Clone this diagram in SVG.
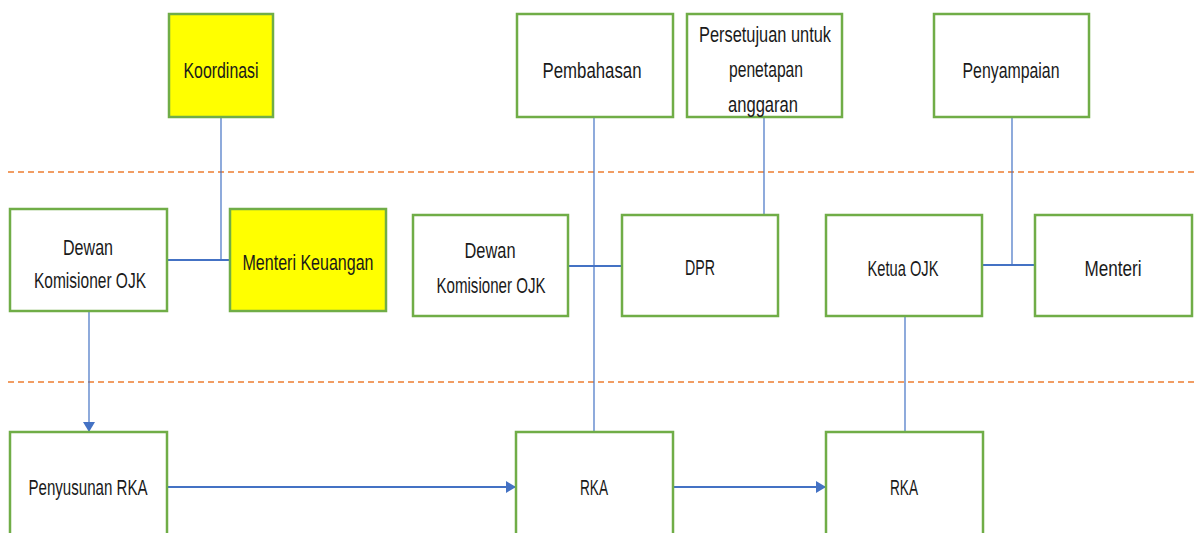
<svg xmlns="http://www.w3.org/2000/svg" width="1198" height="533" viewBox="0 0 1198 533">
<style>
.box{fill:#fff;stroke:#70AD47;stroke-width:2.5}
.yel{fill:#FFFF00;stroke:#70AD47;stroke-width:2.5}
.t{font-family:"Liberation Sans",Arial,sans-serif;font-size:22px;fill:#1a1a1a;text-anchor:middle;dominant-baseline:central}
.c{stroke:#4472C4;stroke-width:1.2;fill:none}
.h{stroke:#4472C4;stroke-width:2;fill:none}
.d{stroke:#ED7D31;stroke-width:1.5;stroke-dasharray:6,4;fill:none}
</style>
<defs>
<marker id="ah" viewBox="0 0 10 12" refX="10" refY="6" markerWidth="10" markerHeight="12" markerUnits="userSpaceOnUse" orient="auto">
<path d="M0,0 L10,6 L0,12 Z" fill="#4472C4"/>
</marker>
</defs>
<rect width="1198" height="533" fill="#fff"/>
<g id="separators">
<line class="d" x1="8" y1="172" x2="1198" y2="172"/>
<line class="d" x1="8" y1="382" x2="1198" y2="382"/>
</g>
<g id="connectors">
<line class="c" x1="221" y1="117" x2="221" y2="260"/>
<line class="h" x1="167" y1="260" x2="230" y2="260"/>
<line class="c" x1="594" y1="117" x2="594" y2="432"/>
<line class="h" x1="568" y1="266" x2="622" y2="266"/>
<line class="c" x1="764" y1="117" x2="764" y2="215"/>
<line class="c" x1="1012" y1="117" x2="1012" y2="265"/>
<line class="h" x1="982" y1="265" x2="1035" y2="265"/>
<line class="c" x1="905" y1="316" x2="905" y2="432"/>
<line class="c" x1="89" y1="311" x2="89" y2="432" marker-end="url(#ah)"/>
<line class="h" x1="167" y1="487" x2="516" y2="487" marker-end="url(#ah)"/>
<line class="h" x1="673" y1="487" x2="826" y2="487" marker-end="url(#ah)"/>
</g>
<g id="koordinasi"><rect class="yel" x="169" y="14" width="104" height="103"/><text class="t" x="221" y="70" textLength="75" lengthAdjust="spacingAndGlyphs">Koordinasi</text></g>
<g id="pembahasan"><rect class="box" x="517" y="14" width="156" height="103"/><text class="t" x="592" y="70" textLength="99" lengthAdjust="spacingAndGlyphs">Pembahasan</text></g>
<g id="persetujuan"><rect class="box" x="687" y="14" width="155" height="103"/><text class="t" x="765" y="34" textLength="132" lengthAdjust="spacingAndGlyphs">Persetujuan untuk</text><text class="t" x="766" y="69" textLength="74" lengthAdjust="spacingAndGlyphs">penetapan</text><text class="t" x="763" y="104" textLength="70" lengthAdjust="spacingAndGlyphs">anggaran</text></g>
<g id="penyampaian"><rect class="box" x="934" y="14" width="155" height="103"/><text class="t" x="1011" y="70" textLength="97" lengthAdjust="spacingAndGlyphs">Penyampaian</text></g>
<g id="dewan1"><rect class="box" x="10" y="209" width="157" height="102"/><text class="t" x="88" y="247" textLength="50" lengthAdjust="spacingAndGlyphs">Dewan</text><text class="t" x="90" y="280" textLength="112" lengthAdjust="spacingAndGlyphs">Komisioner OJK</text></g>
<g id="menteri-keuangan"><rect class="yel" x="230" y="209" width="156" height="102"/><text class="t" x="308" y="262" textLength="131" lengthAdjust="spacingAndGlyphs">Menteri Keuangan</text></g>
<g id="dewan2"><rect class="box" x="413" y="215" width="155" height="101"/><text class="t" x="490" y="250" textLength="51" lengthAdjust="spacingAndGlyphs">Dewan</text><text class="t" x="491" y="285" textLength="109" lengthAdjust="spacingAndGlyphs">Komisioner OJK</text></g>
<g id="dpr"><rect class="box" x="622" y="215" width="156" height="101"/><text class="t" x="700" y="267" textLength="30" lengthAdjust="spacingAndGlyphs">DPR</text></g>
<g id="ketua"><rect class="box" x="826" y="215" width="156" height="101"/><text class="t" x="903" y="268" textLength="71" lengthAdjust="spacingAndGlyphs">Ketua OJK</text></g>
<g id="menteri"><rect class="box" x="1035" y="215" width="157" height="101"/><text class="t" x="1113" y="268" textLength="57" lengthAdjust="spacingAndGlyphs">Menteri</text></g>
<g id="penyusunan"><rect class="box" x="10" y="432" width="157" height="110"/><text class="t" x="88" y="487" textLength="119" lengthAdjust="spacingAndGlyphs">Penyusunan RKA</text></g>
<g id="rka1"><rect class="box" x="516" y="432" width="157" height="110"/><text class="t" x="594" y="487" textLength="28" lengthAdjust="spacingAndGlyphs">RKA</text></g>
<g id="rka2"><rect class="box" x="826" y="432" width="157" height="110"/><text class="t" x="904" y="487" textLength="28" lengthAdjust="spacingAndGlyphs">RKA</text></g>
</svg>
